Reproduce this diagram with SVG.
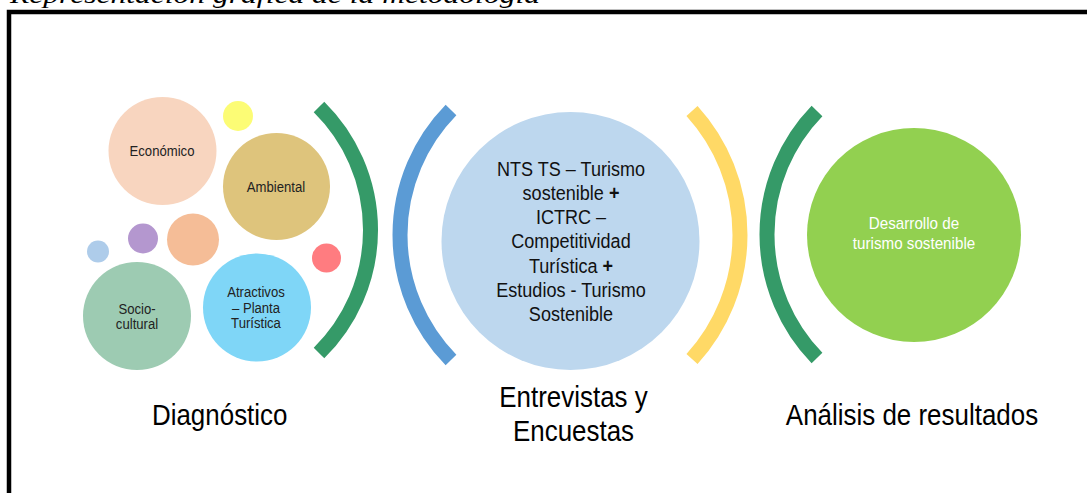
<svg xmlns="http://www.w3.org/2000/svg" width="1087" height="493" viewBox="0 0 1087 493">
<style>
  .lbl { font-family: "Liberation Sans", Arial, sans-serif; fill: #222; text-anchor: middle; }
  .s { font-size: 15px; }
  .m { font-size: 21px; fill: #111; }
  .b { font-size: 30px; fill: #000; }
  .w { font-size: 16px; fill: #fff; }
  .arc { fill: none; stroke-width: 15; stroke-linecap: butt; }
  .plus { font-weight: bold; }
</style>
<rect width="1087" height="493" fill="#fff"/>
<text x="10" y="3" font-family="'Liberation Serif', 'Times New Roman', serif" font-style="italic" font-size="26" textLength="530" lengthAdjust="spacingAndGlyphs" fill="#000">Representación gráfica de la metodología</text>
<path d="M9,493 V12 H1087" fill="none" stroke="#000" stroke-width="4.5"/>

<g id="arcs">
  <path class="arc" stroke="#359A68" d="M319,107 A172.6,172.6 0 0 1 319,353"/>
  <path class="arc" stroke="#5B9BD5" d="M451,110 A178.7,178.7 0 0 0 451,360"/>
  <path class="arc" stroke="#FFD966" d="M692,111 A184.2,184.2 0 0 1 692,359"/>
  <path class="arc" stroke="#359A68" d="M817,111 A177.5,177.5 0 0 0 817,358"/>
</g>

<g id="diagnostico">
  <circle id="economico" cx="162.5" cy="151" r="54" fill="#F8D5BF"/>
  <circle id="yellow-dot" cx="238" cy="116" r="15" fill="#FCFC75"/>
  <circle id="ambiental" cx="276.5" cy="186.5" r="53.5" fill="#DEC47C"/>
  <circle id="purple-dot" cx="143" cy="238.5" r="15" fill="#B497CF"/>
  <circle id="orange-dot" cx="193" cy="239.5" r="26" fill="#F5BD97"/>
  <circle id="blue-dot" cx="98" cy="251.5" r="11" fill="#AECCEA"/>
  <circle id="red-dot" cx="326.5" cy="258" r="14.5" fill="#FF7C80"/>
  <circle id="sociocultural" cx="137" cy="316" r="54" fill="#9DCBB2"/>
  <circle id="atractivos" cx="257" cy="307.5" r="54" fill="#7FD6F7"/>
  <text class="lbl s" transform="translate(162,156) scale(0.875,1)">Económico</text>
  <text class="lbl s" transform="translate(276,192) scale(0.875,1)">Ambiental</text>
  <text class="lbl s" transform="translate(137,314) scale(0.875,1)">Socio-</text>
  <text class="lbl s" transform="translate(137,329.3) scale(0.875,1)">cultural</text>
  <text class="lbl s" transform="translate(256,297.3) scale(0.875,1)">Atractivos</text>
  <text class="lbl s" transform="translate(256,312.5) scale(0.875,1)">– Planta</text>
  <text class="lbl s" transform="translate(256,328.3) scale(0.875,1)">Turística</text>
  <text class="lbl b" transform="translate(219.7,425) scale(0.865,1)">Diagnóstico</text>
</g>

<g id="entrevistas">
  <circle cx="570.5" cy="241" r="129" fill="#BDD7EE"/>
  <text class="lbl m" transform="translate(571,175.5) scale(0.86,1)">NTS TS – Turismo</text>
  <text class="lbl m" transform="translate(571,200) scale(0.86,1)">sostenible <tspan class="plus">+</tspan></text>
  <text class="lbl m" transform="translate(571,224.3) scale(0.86,1)">ICTRC –</text>
  <text class="lbl m" transform="translate(571,248.4) scale(0.86,1)">Competitividad</text>
  <text class="lbl m" transform="translate(571,272.7) scale(0.86,1)">Turística <tspan class="plus">+</tspan></text>
  <text class="lbl m" transform="translate(571,296.8) scale(0.86,1)">Estudios - Turismo</text>
  <text class="lbl m" transform="translate(571,320.5) scale(0.86,1)">Sostenible</text>
  <text class="lbl b" transform="translate(573.5,407.3) scale(0.865,1)">Entrevistas y</text>
  <text class="lbl b" transform="translate(573.5,440.7) scale(0.865,1)">Encuestas</text>
</g>

<g id="analisis">
  <circle cx="914" cy="235" r="107" fill="#92D050"/>
  <text class="lbl w" transform="translate(914,229.3) scale(0.95,1)">Desarrollo de</text>
  <text class="lbl w" transform="translate(914,249.3) scale(0.95,1)">turismo sostenible</text>
  <text class="lbl b" transform="translate(912,425) scale(0.865,1)">Análisis de resultados</text>
</g>
</svg>
